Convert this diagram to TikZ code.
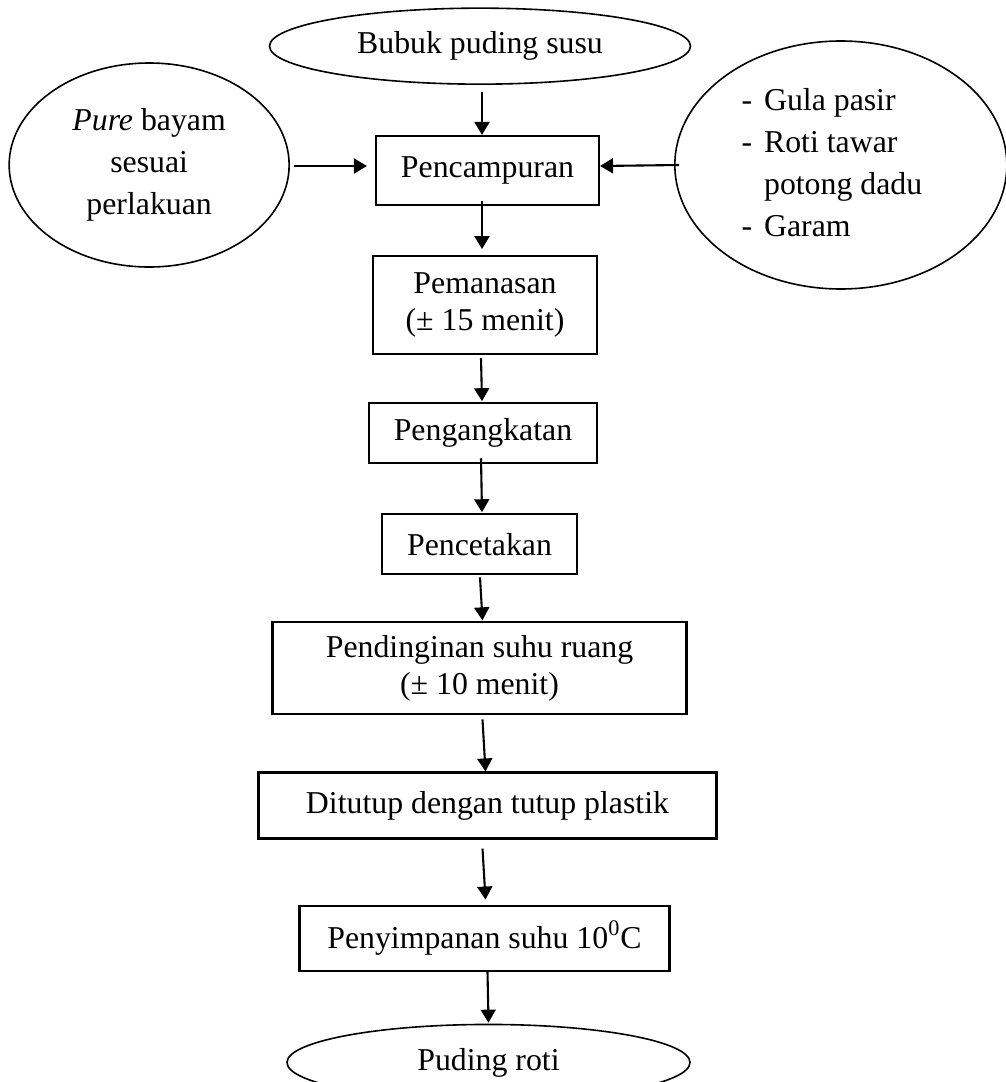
\documentclass[tikz,border=0pt]{standalone}
\usepackage{fontspec}
\setmainfont{Liberation Serif}
\usetikzlibrary{positioning,shapes.geometric,arrows.meta}

\begin{document}
\begin{tikzpicture}[
  x=0.5pt, y=-0.5pt,
  stepbox/.style={rectangle, draw, line width=1.05pt, inner sep=0pt, align=center, font=\fontsize{15.9}{18.5}\selectfont},
  oval/.style={ellipse, draw, line width=0.8pt, inner sep=0pt, align=center, font=\fontsize{15.9}{21}\selectfont},
  arr/.style={-{Triangle[length=6.5pt,width=7.5pt]}, line width=1.05pt}
]
\useasboundingbox (0,0) rectangle (1006,1082);

% Bahan masuk
\node[stepbox, minimum width=111.5pt, minimum height=34.5pt] (mix) at (487.5,170.5) {Pencampuran};
\node[oval, minimum width=210.5pt, minimum height=38pt, above=25pt of mix, xshift=-3.75pt] (powder) {Bubuk puding susu};
\node[oval, minimum width=140pt, minimum height=102pt, left=42.5pt of mix, yshift=2.75pt] (spinach) {\textit{Pure} bayam\\sesuai\\perlakuan};
\node[oval, minimum width=166pt, minimum height=124pt, right=37pt of mix, yshift=2.75pt] (extra) {\begin{tabular}{@{}l@{\hspace{6pt}}l@{\hspace{9pt}}}
- & Gula pasir\\
- & Roti tawar\\
  & potong dadu\\
- & Garam
\end{tabular}};

% Tahapan proses
\node[stepbox, minimum width=112pt, minimum height=49pt, below=24.5pt of mix, xshift=-1.25pt] (heat) {Pemanasan\\(± 15 menit)};
\node[stepbox, minimum width=114pt, minimum height=30pt, below=23.5pt of heat, xshift=-1pt] (lift) {Pengangkatan};
\node[stepbox, minimum width=97.5pt, minimum height=30pt, below=24.5pt of lift, xshift=-1.75pt] (mold) {Pencetakan};
\node[stepbox, minimum width=207pt, minimum height=46pt, below=23pt of mold] (cool) {Pendinginan suhu ruang\\(± 10 menit)};
\node[stepbox, minimum width=229pt, minimum height=33pt, below=28pt of cool, xshift=4pt] (cover) {Ditutup dengan tutup plastik};
\node[stepbox, minimum width=185pt, minimum height=32.5pt, below=32.5pt of cover, xshift=-1.5pt] (store) {Penyimpanan suhu 10\textsuperscript{0}C};
\node[oval, minimum width=201.5pt, minimum height=38pt, below=26pt of store, xshift=2pt] (finish) {Puding roti};

% Panah
\draw[arr] ([xshift=1pt,yshift=-3.5pt]powder.south) -- ([xshift=-2.75pt]mix.north);
\draw[arr] ([xshift=2pt,yshift=-0.5pt]spinach.east) -- ([xshift=-4pt,yshift=2.25pt]mix.west);
\draw[arr] ([xshift=2.5pt]extra.west) -- ([yshift=2.25pt]mix.east);
\draw[arr] ([xshift=-2.75pt,yshift=2.5pt]mix.south) -- ([xshift=-1.5pt,yshift=3pt]heat.north);
\draw[arr] ([xshift=-2pt,yshift=-1.5pt]heat.south) -- ([xshift=-0.5pt,yshift=0.5pt]lift.north);
\draw[arr] ([xshift=-1pt,yshift=3pt]lift.south) -- ([xshift=1.25pt,yshift=0.5pt]mold.north);
\draw[arr] ([xshift=0.25pt,yshift=-1pt]mold.south) -- ([xshift=1.5pt,yshift=0.5pt]cool.north);
\draw[arr] ([xshift=1.5pt,yshift=-2pt]cool.south) -- ([xshift=-1pt]cover.north);
\draw[arr] ([xshift=-2.5pt,yshift=-4.5pt]cover.south) -- ([xshift=0.5pt,yshift=2.5pt]store.north);
\draw[arr] ([xshift=1.5pt]store.south) -- ([yshift=0.5pt]finish.north);
\end{tikzpicture}
\end{document}
